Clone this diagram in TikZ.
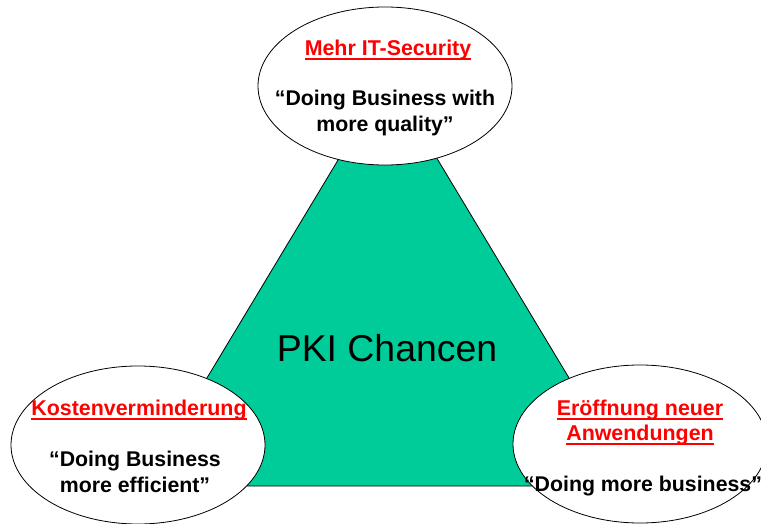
\documentclass[tikz,border=0pt]{standalone}
\usepackage{fontspec}
\setmainfont{Liberation Sans}
\usetikzlibrary{shapes.geometric}
\definecolor{pkigreen}{RGB}{0,204,153}
\newcommand{\redline}[1]{\setbox0\hbox{#1}\rlap{\rule[-4.5pt]{\wd0}{2pt}}\box0}

\begin{document}
\begin{tikzpicture}[x=1pt,y=-1pt,line width=0.8pt]
  \tikzstyle{chance} = [draw, ellipse, fill=white, inner sep=0pt, minimum width=254pt, minimum height=158pt]
  \tikzstyle{heading} = [anchor=base, text=red, align=center, font={\fontsize{21.4}{25}\selectfont\bfseries}];
  \tikzstyle{motto} = [anchor=base, align=center, font={\fontsize{21.3}{26}\selectfont\bfseries}];

  \useasboundingbox (0,0) rectangle (761,524);

  \draw[fill=pkigreen] (388,77) -- (634,486) -- (142,486) -- cycle;
  \node[anchor=base, font={\fontsize{37.4}{44}\selectfont}] (pki) at (387,361) {PKI Chancen};

  \node[chance] (sec) at (385,86) {};
  \node[chance] (cost) at (138,445) {};
  \node[chance] (apps) at (640,444) {};

  % base of a two-line node is its last line
  \node[heading] (secT) at (388,56) {\redline{Mehr IT-Security}};
  \node[motto] (secQ) at (385,132) {“Doing Business with\\more quality”};

  \node[heading] (costT) at (139,415) {\redline{Kostenverminderung}};
  \node[motto] (costQ) at (135,492) {“Doing Business\\more efficient”};

  \node[heading] (appsT) at (640,440) {\redline{Eröffnung neuer}\\\redline{Anwendungen}};
  \node[motto] (appsQ) at (643,491) {“Doing more business”};
\end{tikzpicture}
\end{document}
